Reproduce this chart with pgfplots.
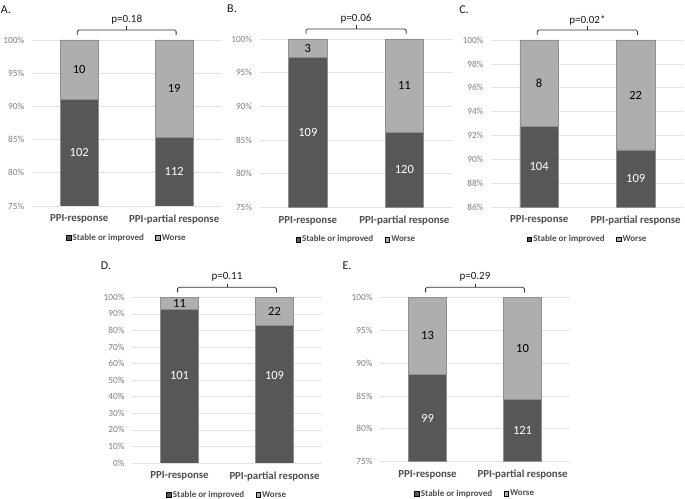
\documentclass[border=0pt]{standalone}
\usepackage{pgfplots}
\pgfplotsset{compat=1.18}
\usepackage{fontspec}
\setmainfont{Carlito}
\definecolor{darkbar}{HTML}{575757}
\definecolor{lightbar}{HTML}{AEAEAE}
\definecolor{barline}{HTML}{8F8F8F}
\definecolor{gridc}{HTML}{E3E3E3}
\definecolor{tickc}{HTML}{7F7F7F}
\definecolor{catc}{HTML}{4D4D4D}

\pgfplotsset{
  panel/.style={
    scale only axis, anchor=south west,
    xmin=-0.5, xmax=1.5, ymax=100,
    axis line style={draw=none},
    major tick length=0pt,
    ymajorgrids, grid style={gridc, line width=0.7bp},
    xtick={0,1}, xticklabels={PPI-response,PPI-partial response},
    xticklabel style={font=\fontsize{10.8bp}{12bp}\selectfont\bfseries, text=catc, yshift=-5bp},
    yticklabel style={font=\fontsize{9.3bp}{11bp}\selectfont, text=tickc, xshift=-4bp},
    yticklabel={\pgfmathprintnumber{\tick}\%},
    /pgf/number format/assume math mode=true,
    clip mode=individual,
    legend style={at={(0.5,0)}, anchor=center, yshift=-32bp, draw=none, fill=none,
      legend columns=2, font=\fontsize{9bp}{10bp}\selectfont\bfseries, text=catc,
      nodes={inner xsep=1.5bp, inner ysep=1bp},
      /tikz/every even column/.append style={column sep=10bp},
      /tikz/every odd column/.append style={column sep=0bp}},
    legend cell align=left,
    legend image code/.code={\fill[##1] (0bp,-2.3bp) rectangle (4.6bp,2.3bp);},
  },
  lightbars/.style={ybar, bar width=0.4, bar shift=0pt, fill=lightbar, draw=barline, line width=0.7bp, forget plot},
  darkbars/.style={ybar, bar width=0.4, bar shift=0pt, fill=darkbar, draw=barline, line width=0.7bp, forget plot},
  darklab/.style={draw=none, mark=none, nodes near coords, point meta=explicit symbolic, forget plot,
    nodes near coords style={anchor=center, text=white, font=\fontsize{12.5bp}{14bp}\selectfont}},
  lightlab/.style={draw=none, mark=none, nodes near coords, point meta=explicit symbolic, forget plot,
    nodes near coords style={anchor=center, text=black, font=\fontsize{12.5bp}{14bp}\selectfont}},
}
\newcommand{\bracket}[1]{%
  \draw[line width=0.8bp, black!80, rounded corners=1.5bp]
    ([yshift=5bp]axis cs:-0.02,100) -- ([yshift=10bp]axis cs:-0.02,100)
    -- ([yshift=10bp]axis cs:1.02,100) -- ([yshift=5bp]axis cs:1.02,100);
  \draw[line width=0.8bp, black!80] ([yshift=10bp]axis cs:0.5,100) -- ([yshift=13.5bp]axis cs:0.5,100);
  \node[font=\fontsize{11bp}{13bp}\selectfont, text=black!90] at ([yshift=20bp]axis cs:0.5,100) {#1};
}
\newcommand{\legendentries}{%
  \addlegendimage{fill=darkbar}\addlegendentry{Stable or improved}
  \addlegendimage{fill=lightbar}\addlegendentry{Worse}
}

\begin{document}
\begin{tikzpicture}[x=1bp,y=1bp]
\useasboundingbox (0,0) rectangle (685,499);

% ---------- A ----------
\begin{axis}[panel, at={(31.7bp,293bp)}, width=190bp, height=166bp,
  ymin=75, ytick={75,80,...,100}]
\legendentries
\addplot[lightbars] coordinates {(0,100) (1,100)};
\addplot[darkbars] coordinates {(0,91.06) (1,85.35)};
\addplot[darklab] coordinates {(0,83.03) [102] (1,80.18) [112]};
\addplot[lightlab] coordinates {(0,95.53) [10] (1,92.68) [19]};
\bracket{p=0.18}
\end{axis}

% ---------- B ----------
\begin{axis}[panel, at={(259.6bp,291.5bp)}, width=193bp, height=168.5bp,
  ymin=75, ytick={75,80,...,100}]
\legendentries
\addplot[lightbars] coordinates {(0,100) (1,100)};
\addplot[darkbars] coordinates {(0,97.3) (1,86.2)};
\addplot[darklab] coordinates {(0,86.15) [109] (1,80.6) [120]};
\addplot[lightlab] coordinates {(0,98.65) [3] (1,93.1) [11]};
\bracket{p=0.06}
\end{axis}

% ---------- C ----------
\begin{axis}[panel, at={(490.9bp,291.7bp)}, width=193bp, height=167.3bp,
  ymin=86, ytick={86,88,...,100}]
\legendentries
\addplot[lightbars] coordinates {(0,100) (1,100)};
\addplot[darkbars] coordinates {(0,92.8) (1,90.8)};
\addplot[darklab] coordinates {(0,89.4) [104] (1,88.4) [109]};
\addplot[lightlab] coordinates {(0,96.4) [8] (1,95.4) [22]};
\bracket{p=0.02*}
\end{axis}

% ---------- D ----------
\begin{axis}[panel, at={(132bp,36bp)}, width=190bp, height=165.7bp,
  ymin=0, ytick={0,10,...,100}]
\legendentries
\addplot[lightbars] coordinates {(0,100) (1,100)};
\addplot[darkbars] coordinates {(0,92.6) (1,83.0)};
\addplot[darklab] coordinates {(0,53.0) [101] (1,53.0) [109]};
\addplot[lightlab] coordinates {(0,96.3) [11] (1,91.5) [22]};
\bracket{p=0.11}
\end{axis}

% ---------- E ----------
\begin{axis}[panel, at={(380bp,37.3bp)}, width=190bp, height=164.4bp,
  ymin=75, ytick={75,80,...,100}]
\legendentries
\addplot[lightbars] coordinates {(0,100) (1,100)};
\addplot[darkbars] coordinates {(0,88.3) (1,84.5)};
\addplot[darklab] coordinates {(0,81.65) [99] (1,79.75) [121]};
\addplot[lightlab] coordinates {(0,94.15) [13] (1,92.25) [10]};
\bracket{p=0.29}
\end{axis}

\begin{scope}[every node/.style={font=\fontsize{12bp}{14bp}\selectfont, text=black!90}]
\node at (6,489) {A.};
\node at (232,490.5) {B.};
\node at (464,489) {C.};
\node at (106,233) {D.};
\node at (347,233) {E.};
\end{scope}
\end{tikzpicture}
\end{document}
